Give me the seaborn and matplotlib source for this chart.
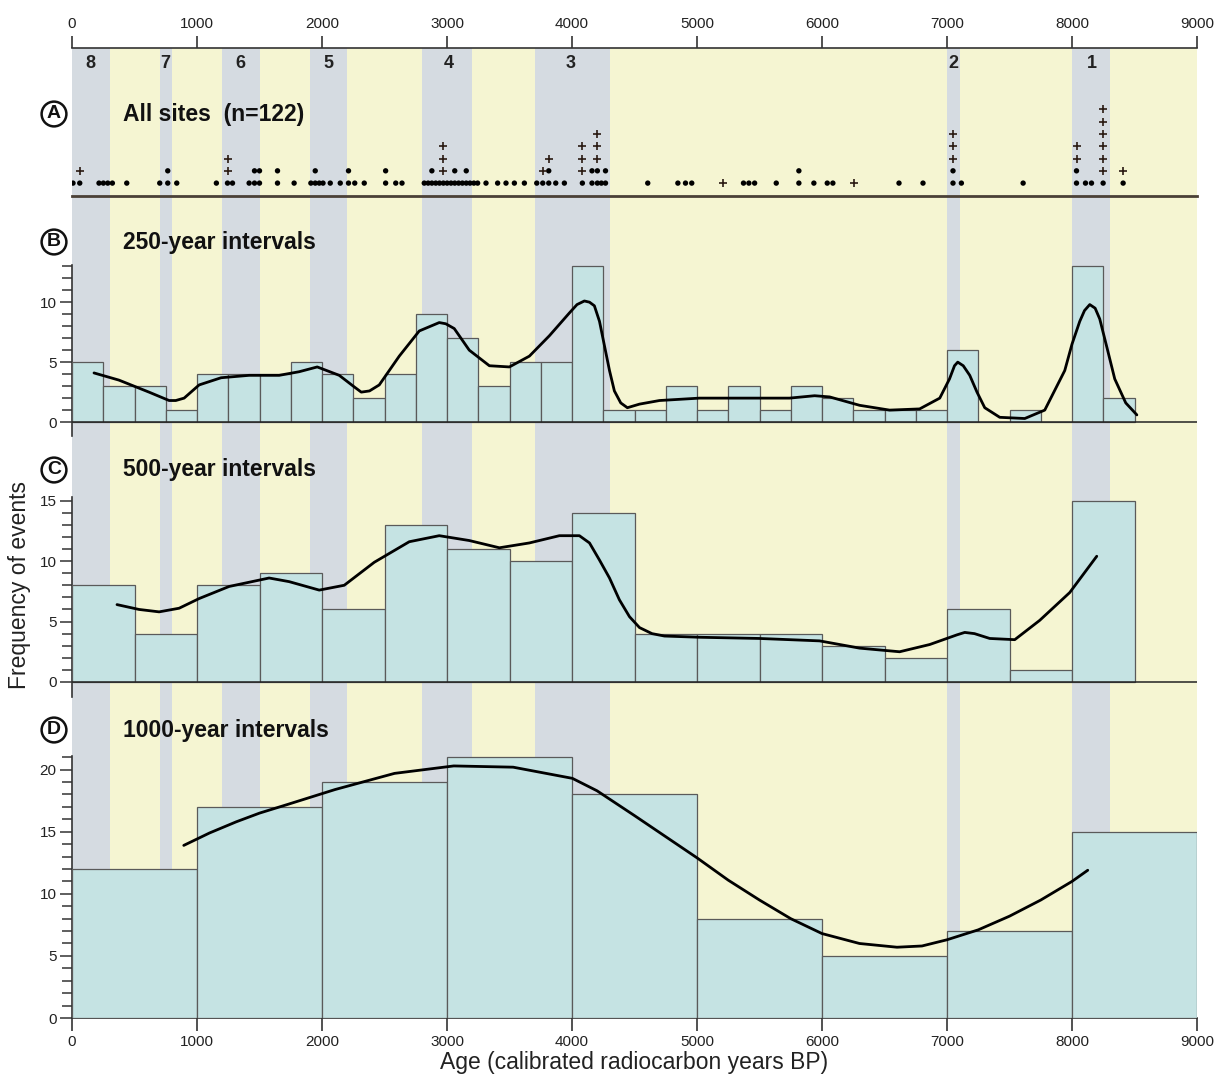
import numpy as np
import pandas as pd
import matplotlib
matplotlib.use("Agg")
import matplotlib.pyplot as plt
import matplotlib.transforms as mtransforms
import seaborn as sns

sns.set_theme(style="white")
plt.rcParams['font.family'] = ['Liberation Sans', 'DejaVu Sans']

# ---------------- data ----------------
# event bands (start, end, label, label position)
band_start = [0, 700, 1200, 1900, 2800, 3700, 7000, 8000]
band_end = [300, 800, 1500, 2200, 3200, 4300, 7100, 8300]
band_label = ["8", "7", "6", "5", "4", "3", "2", "1"]
band_label_x = [150, 745, 1345, 2050, 3010, 3990, 7050, 8160]

# Panel A: columns of site ages, number of dots and crosses stacked
a_age = [8, 62, 216, 251, 286, 323, 438, 702, 766, 838,
         1155, 1244, 1284, 1417, 1460, 1500, 1644, 1777, 1911, 1946,
         1978, 2008, 2066, 2146, 2212, 2262, 2338, 2509, 2590, 2640,
         2818, 2849, 2879, 2910, 2940, 2971, 3001, 3032, 3062, 3093,
         3123, 3154, 3184, 3215, 3245, 3312, 3405, 3472, 3539, 3619,
         3718, 3766, 3814, 3870, 3939, 4083, 4160, 4203, 4235, 4268,
         4606, 4847, 4908, 4958, 5207, 5372, 5415, 5461, 5634, 5815,
         5935, 6042, 6087, 6255, 6616, 6808, 7048, 7115, 7609, 8036,
         8108, 8156, 8249, 8409]
a_dots = [1, 1, 1, 1, 1, 1, 1, 1, 2, 1,
          1, 1, 1, 1, 2, 2, 2, 1, 1, 2,
          1, 1, 1, 1, 2, 1, 1, 2, 1, 1,
          1, 1, 2, 1, 1, 1, 1, 1, 2, 1,
          1, 2, 1, 1, 1, 1, 1, 1, 1, 1,
          1, 1, 2, 1, 1, 1, 2, 2, 1, 2,
          1, 1, 1, 1, 0, 1, 1, 1, 1, 2,
          1, 1, 1, 0, 1, 1, 2, 1, 1, 2,
          1, 1, 1, 1]
a_plus = [0, 1, 0, 0, 0, 0, 0, 0, 0, 0,
          0, 2, 0, 0, 0, 0, 0, 0, 0, 0,
          0, 0, 0, 0, 0, 0, 0, 0, 0, 0,
          0, 0, 0, 0, 0, 3, 0, 0, 0, 0,
          0, 0, 0, 0, 0, 0, 0, 0, 0, 0,
          0, 1, 1, 0, 0, 3, 0, 3, 0, 0,
          0, 0, 0, 0, 1, 0, 0, 0, 0, 0,
          0, 0, 0, 1, 0, 0, 3, 0, 0, 2,
          0, 0, 6, 1]

# Panel B: 250-year intervals
b_edges = list(range(0, 8501, 250))
b_counts = [5, 3, 3, 1, 4, 4, 4, 5, 4, 2, 4, 9, 7, 3, 5, 5, 13,
            1, 1, 3, 1, 3, 1, 3, 2, 1, 1, 1, 6, 0, 1, 0, 13, 2]
b_curve_x = [176, 376, 616, 777, 830, 897, 1017, 1193, 1417, 1657, 1817, 1962,
             2138, 2250, 2314, 2380, 2458, 2618, 2778, 2938, 2990, 3058, 3178,
             3339, 3499, 3659, 3819, 3979, 4040, 4099, 4140, 4179, 4220, 4259,
             4300, 4339, 4390, 4443, 4540, 4700, 5020, 5420, 5740, 5941, 6061,
             6301, 6541, 6781, 6942, 7020, 7060, 7086, 7130, 7182, 7240, 7302,
             7422, 7622, 7782, 7942, 8000, 8062, 8100, 8142, 8185, 8222, 8280,
             8342, 8430, 8519]
b_curve_y = [4.1, 3.5, 2.5, 1.8, 1.8, 2.0, 3.1, 3.7, 3.9, 3.9, 4.2, 4.6,
             3.9, 3.0, 2.5, 2.6, 3.1, 5.5, 7.6, 8.3, 8.2, 7.8, 6.0,
             4.7, 4.6, 5.5, 7.2, 9.1, 9.8, 10.1, 10.0, 9.7, 8.4, 6.4,
             4.3, 2.6, 1.6, 1.2, 1.5, 1.8, 2.0, 2.0, 2.0, 2.2, 2.1,
             1.4, 1.0, 1.1, 2.0, 3.6, 4.7, 5.0, 4.7, 3.9, 2.5, 1.2,
             0.4, 0.3, 1.0, 4.3, 6.5, 8.4, 9.3, 9.8, 9.5, 8.6, 6.2,
             3.6, 1.6, 0.6]

# Panel C: 500-year intervals
c_edges = list(range(0, 8501, 500))
c_counts = [8, 4, 8, 9, 6, 13, 11, 10, 14, 4, 4, 4, 3, 2, 6, 1, 15]
c_curve_x = [360, 536, 697, 857, 1017, 1257, 1577, 1737, 1978, 2178, 2418,
             2698, 2938, 3178, 3419, 3659, 3899, 4059, 4140, 4219, 4300, 4379,
             4460, 4540, 4640, 4740, 5020, 5500, 5981, 6301, 6621, 6862, 7080,
             7142, 7220, 7342, 7542, 7742, 7982, 8198]
c_curve_y = [6.4, 6.0, 5.8, 6.1, 6.9, 7.9, 8.6, 8.3, 7.6, 8.0, 9.9,
             11.6, 12.1, 11.7, 11.1, 11.5, 12.1, 12.1, 11.5, 10.1, 8.6, 6.8,
             5.4, 4.5, 4.0, 3.8, 3.7, 3.6, 3.4, 2.8, 2.5, 3.1, 3.9,
             4.1, 4.0, 3.6, 3.5, 5.1, 7.4, 10.4]

# Panel D: 1000-year intervals
d_edges = list(range(0, 9001, 1000))
d_counts = [12, 17, 19, 21, 18, 8, 5, 7, 15]
d_curve_x = [894, 1100, 1314, 1500, 1725, 2105, 2580, 3054, 3529, 4003, 4200,
             4500, 4750, 5000, 5250, 5500, 5750, 6000, 6300, 6600, 6800, 7000,
             7250, 7500, 7750, 8000, 8126]
d_curve_y = [13.9, 14.9, 15.8, 16.5, 17.2, 18.4, 19.7, 20.3, 20.2, 19.3, 18.3,
             16.3, 14.6, 12.9, 11.1, 9.5, 8.0, 6.8, 6.0, 5.7, 5.8, 6.3,
             7.1, 8.2, 9.5, 11.0, 11.9]

x_ticks = list(range(0, 9001, 1000))

# ---------------- style ----------------
GREY = "#d5dbe1"
YELLOW = "#f5f5d2"
BAR = "#c5e3e3"
EDGE = "#5a5a5a"
AX = "#333333"

W, H = 1225, 1078
fig = plt.figure(figsize=(W / 100, H / 100), dpi=100)


def rect(top, bottom, left=72, right=1197):
    return [left / W, 1 - bottom / H, (right - left) / W, (bottom - top) / H]


# background bands axis
bg = fig.add_axes(rect(48, 1018))
bg.set_xlim(0, 9000)
bg.set_ylim(0, 1)
bg.axvspan(0, 9000, color=YELLOW, lw=0, zorder=0)
for s, e in zip(band_start, band_end):
    bg.axvspan(s, e, color=GREY, lw=0, zorder=1)
for sp in ["left", "right", "bottom"]:
    bg.spines[sp].set_visible(False)
bg.spines["top"].set_color(AX)
bg.spines["top"].set_linewidth(1.2)
bg.xaxis.tick_top()
bg.set_xticks(x_ticks)
bg.set_yticks([])
bg.tick_params(axis="x", top=True, bottom=False, direction="out", length=9,
               width=1.2, color=AX, labelsize=11, pad=3, labelcolor="#222")

# ---------------- Panel A ----------------
axA = fig.add_axes(rect(48, 196))
axA.patch.set_alpha(0)
axA.set_xlim(0, 9000)
axA.set_ylim(-1.05, 11)
rows = []
for age, nd, npl in zip(a_age, a_dots, a_plus):
    for i in range(nd):
        rows.append((age, i, "dot"))
    for j in range(npl):
        rows.append((age, nd + j, "plus"))
dfA = pd.DataFrame(rows, columns=["age", "level", "kind"])
sns.scatterplot(data=dfA[dfA.kind == "dot"], x="age", y="level", ax=axA,
                marker="o", s=15, color="black", edgecolor="none", zorder=5)
sns.scatterplot(data=dfA[dfA.kind == "plus"], x="age", y="level", ax=axA,
                marker="+", s=34, color="#2a1a12", linewidth=1.2, zorder=5)
axA.set_xlabel("")
axA.set_ylabel("")
axA.set_xticks([])
axA.set_yticks([])
for sp in ["left", "right", "top"]:
    axA.spines[sp].set_visible(False)
axA.spines["bottom"].set_color("#4a4036")
axA.spines["bottom"].set_linewidth(2.0)
trA = mtransforms.blended_transform_factory(axA.transData, axA.transAxes)
for lx, lab in zip(band_label_x, band_label):
    axA.text(lx, 0.895, lab, transform=trA, ha="center", va="center",
             fontsize=13, fontweight="bold", color="#222")


def hist_panel(ax, edges, counts, curve_x, curve_y, ylim, major, minor_max, zero_line):
    ax.patch.set_alpha(0)
    centers = [(a + b) / 2 for a, b in zip(edges[:-1], edges[1:])]
    sns.histplot(x=centers, weights=counts, bins=edges, ax=ax, stat="count",
                 color=BAR, alpha=1, edgecolor=EDGE, linewidth=0.9, zorder=3)
    sns.lineplot(x=curve_x, y=curve_y, ax=ax, color="black", lw=2.0,
                 sort=False, zorder=6, solid_joinstyle="round",
                 solid_capstyle="round")
    ax.set_xlim(0, 9000)
    ax.set_ylim(*ylim)
    ax.set_xlabel("")
    ax.set_ylabel("")
    ax.set_yticks(major)
    ax.set_yticks(list(range(0, minor_max + 1)), minor=True)
    ax.tick_params(axis="y", which="major", left=True, direction="out", length=9,
                   width=1.1, color=AX, labelsize=11, pad=2, labelcolor="#222")
    ax.tick_params(axis="y", which="minor", left=True, direction="out", length=7,
                   width=1.1, color=AX)
    for sp in ["right", "top"]:
        ax.spines[sp].set_visible(False)
    ax.spines["left"].set_color(AX)
    ax.spines["left"].set_linewidth(1.2)
    if zero_line:
        ax.spines["bottom"].set_visible(False)
        ax.axhline(0, color="#222", lw=1.1, zorder=7)
        ax.set_xticks([])
    else:
        ax.spines["bottom"].set_color(AX)
        ax.spines["bottom"].set_linewidth(1.2)


axB = fig.add_axes(rect(265, 436.5))
hist_panel(axB, b_edges, b_counts, b_curve_x, b_curve_y, (-1.2, 13.1),
           [0, 5, 10], 13, True)

axC = fig.add_axes(rect(497, 696.5))
hist_panel(axC, c_edges, c_counts, c_curve_x, c_curve_y, (-1.2, 15.3),
           [0, 5, 10, 15], 15, True)

axD = fig.add_axes(rect(756, 1018))
hist_panel(axD, d_edges, d_counts, d_curve_x, d_curve_y, (0, 21.1),
           [0, 5, 10, 15, 20], 21, False)
axD.set_xticks(x_ticks)
axD.tick_params(axis="x", bottom=True, direction="out", length=9, width=1.2,
                color=AX, labelsize=11, pad=3, labelcolor="#222")
axD.set_xlabel("Age (calibrated radiocarbon years BP)", fontsize=16.5,
               color="#222", labelpad=2)

# panel letters and titles
panel_y = [114, 242, 470, 730]
panel_letter = ["A", "B", "C", "D"]
panel_title = ["All sites  (n=122)", "250-year intervals", "500-year intervals",
               "1000-year intervals"]
for py, letter, title in zip(panel_y, panel_letter, panel_title):
    fig.text(54 / W, 1 - py / H, letter, ha="center", va="center", fontsize=14,
             fontweight="bold", color="#111",
             bbox=dict(boxstyle="circle,pad=0.2", fc="white", ec="#111", lw=1.8))
    fig.text(123 / W, 1 - py / H, title, ha="left", va="center", fontsize=16.5,
             fontweight="bold", color="#111")

fig.text(20 / W, 1 - 585 / H, "Frequency of events", rotation=90, ha="center",
         va="center", fontsize=16.5, color="#222")

fig.savefig("out.png", dpi=100)
